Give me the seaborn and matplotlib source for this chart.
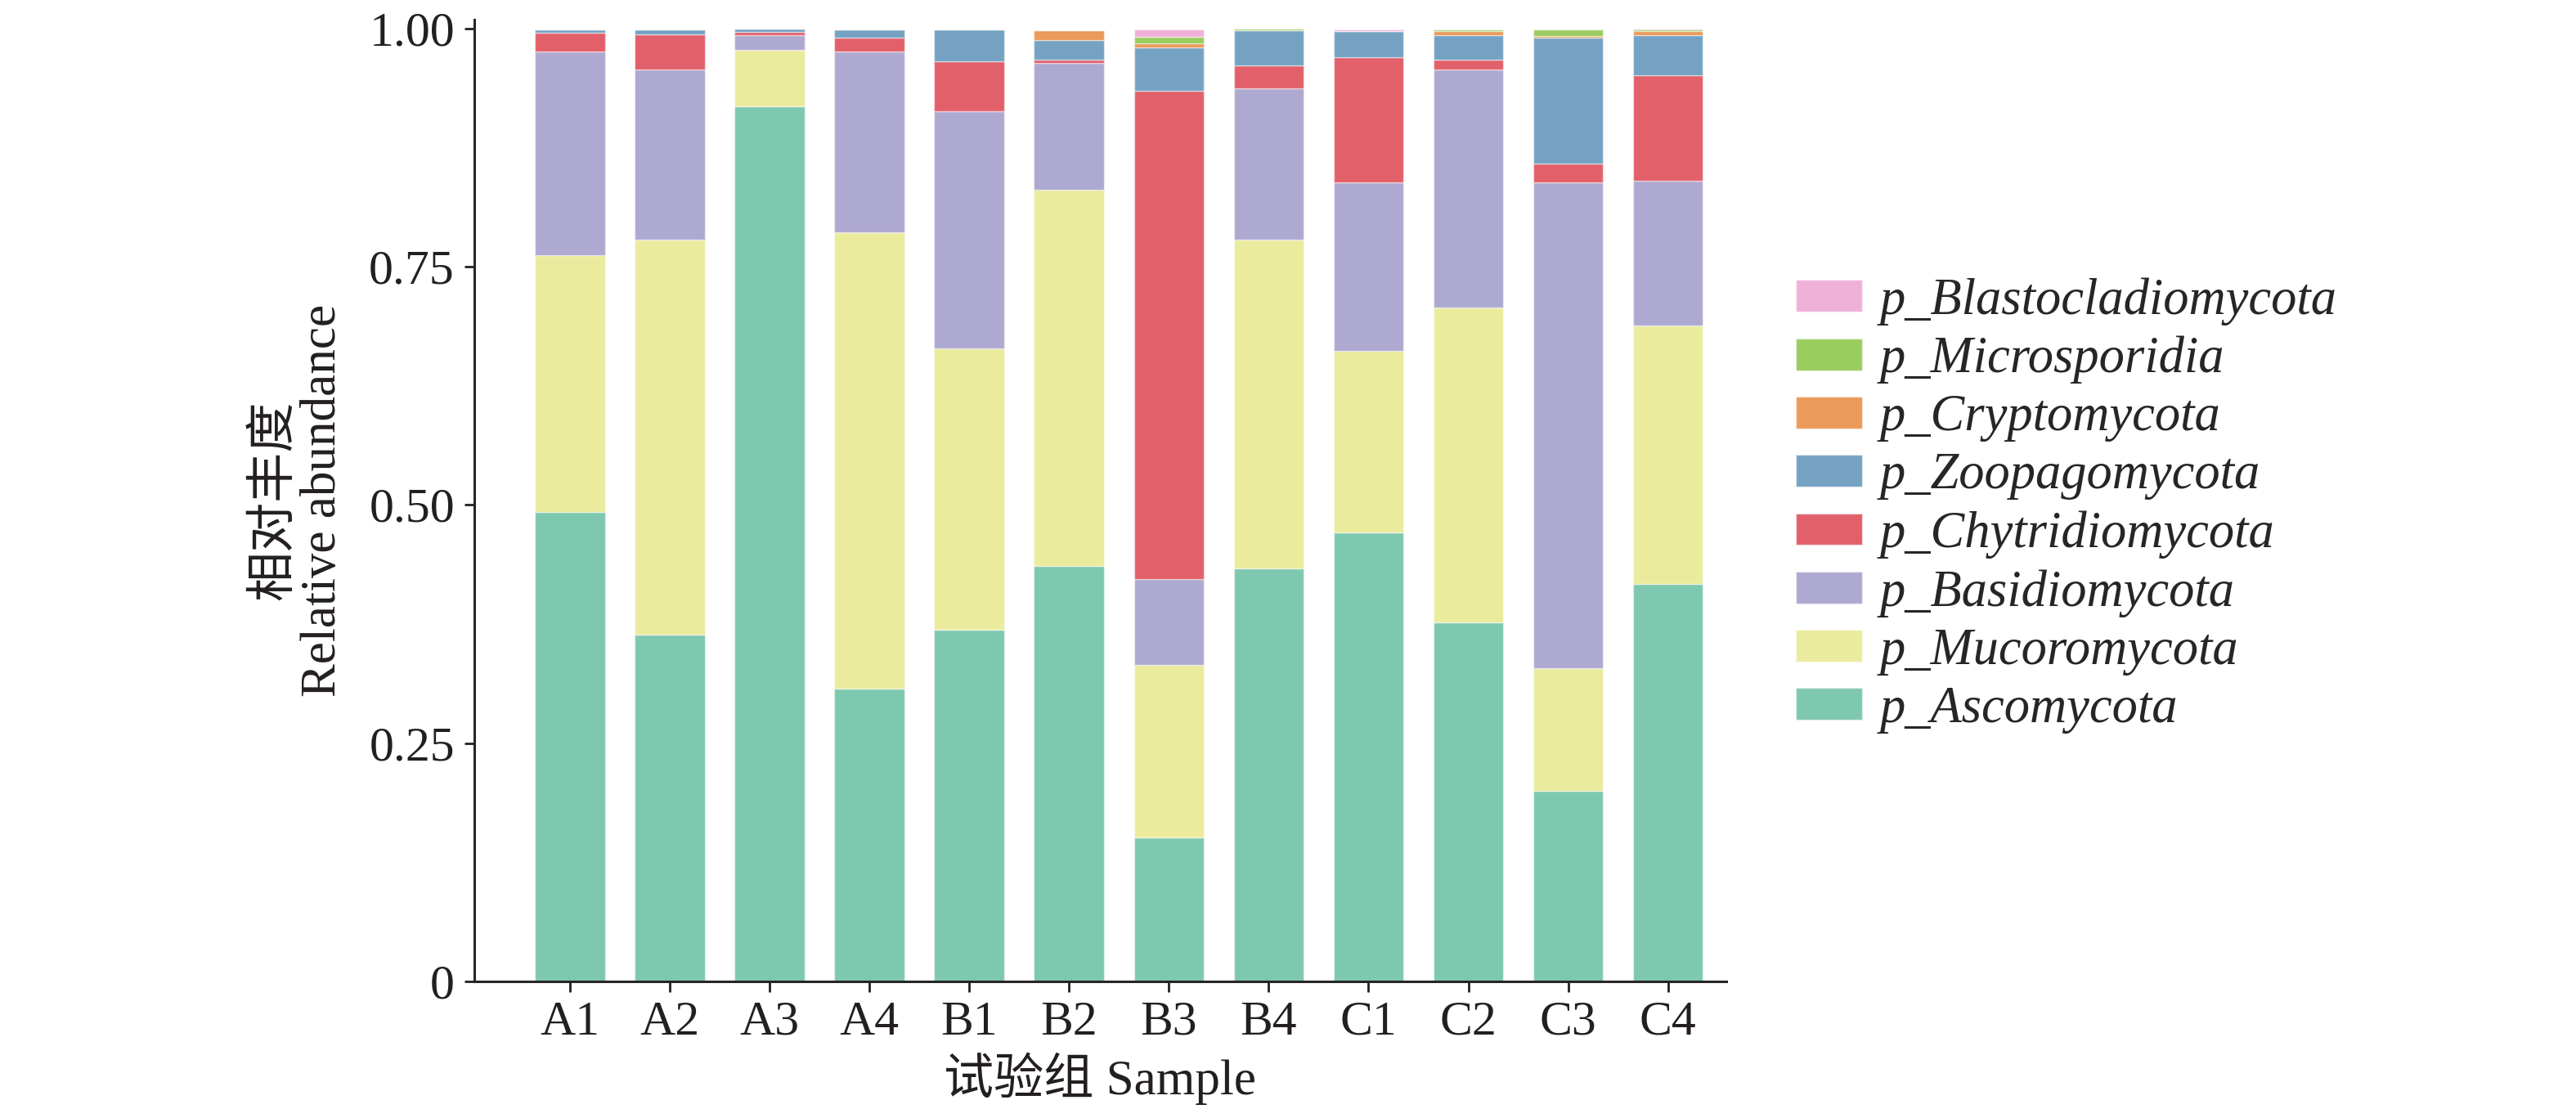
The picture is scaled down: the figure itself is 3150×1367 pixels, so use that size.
import matplotlib
matplotlib.use("Agg")
import matplotlib.pyplot as plt
import numpy as np
import pandas as pd
import seaborn as sns

# samples on the x axis
samples = ["A1", "A2", "A3", "A4", "B1", "B2", "B3", "B4", "C1", "C2", "C3", "C4"]

# relative abundance per phylum, bottom -> top
ascomycota = [0.493, 0.364, 0.918, 0.307, 0.369, 0.436, 0.151, 0.433, 0.471, 0.377, 0.200, 0.417]
mucoromycota = [0.269, 0.414, 0.059, 0.479, 0.295, 0.395, 0.181, 0.345, 0.191, 0.330, 0.129, 0.271]
basidiomycota = [0.214, 0.179, 0.016, 0.190, 0.249, 0.133, 0.090, 0.159, 0.176, 0.250, 0.509, 0.152]
chytridiomycota = [0.019, 0.037, 0.003, 0.014, 0.052, 0.003, 0.512, 0.024, 0.132, 0.010, 0.020, 0.111]
zoopagomycota = [0.004, 0.005, 0.004, 0.009, 0.034, 0.021, 0.046, 0.037, 0.027, 0.026, 0.132, 0.042]
cryptomycota = [0.000, 0.000, 0.000, 0.000, 0.000, 0.010, 0.004, 0.000, 0.000, 0.004, 0.002, 0.004]
microsporidia = [0.000, 0.000, 0.000, 0.000, 0.000, 0.000, 0.007, 0.002, 0.000, 0.002, 0.007, 0.002]
blastocladiomycota = [0.000, 0.000, 0.000, 0.000, 0.000, 0.000, 0.008, 0.000, 0.002, 0.000, 0.000, 0.001]

phyla = ["p_Ascomycota", "p_Mucoromycota", "p_Basidiomycota", "p_Chytridiomycota",
         "p_Zoopagomycota", "p_Cryptomycota", "p_Microsporidia", "p_Blastocladiomycota"]
colors = ["#7fc8b0", "#ebeb9d", "#aea9d0", "#e2606a",
          "#75a2c3", "#ea9a5a", "#9acd5f", "#f0b1d9"]

df = pd.DataFrame({
    "Sample": samples,
    "p_Ascomycota": ascomycota,
    "p_Mucoromycota": mucoromycota,
    "p_Basidiomycota": basidiomycota,
    "p_Chytridiomycota": chytridiomycota,
    "p_Zoopagomycota": zoopagomycota,
    "p_Cryptomycota": cryptomycota,
    "p_Microsporidia": microsporidia,
    "p_Blastocladiomycota": blastocladiomycota,
})

sns.set_style("ticks")
plt.rcParams["font.family"] = ["Liberation Serif", "Noto Sans CJK SC"]
plt.rcParams["axes.linewidth"] = 2.2

fig = plt.figure(figsize=(31.5, 13.67), dpi=100)
ax = fig.add_axes([0.184, 0.122, 0.486, 0.8604])

# stack the phyla one on top of the other
bottom = np.zeros(len(samples))
for name, col in zip(phyla, colors):
    sns.barplot(data=df, x="Sample", y=name, color=col, bottom=bottom,
                width=0.7, errorbar=None, label=name, ax=ax, saturation=1,
                edgecolor=(1, 1, 1, 0.45), linewidth=1.0)
    bottom = bottom + df[name].values

handles, labels = ax.get_legend_handles_labels()
if ax.get_legend() is not None:
    ax.get_legend().remove()

ax.set_xlim(-0.96, 11.58)
ax.set_ylim(0, 1.009)
ax.set_yticks([0, 0.25, 0.5, 0.75, 1.0])
ax.set_yticklabels(["0", "0.25", "0.50", "0.75", "1.00"])
ax.tick_params(axis="both", labelsize=43, length=9, width=2.0, pad=8, colors="#231f20")
sns.despine(ax=ax)

ax.set_xlabel("试验组 Sample", fontsize=44, labelpad=6, color="#231f20")
ax.set_ylabel("相对丰度\nRelative abundance", fontsize=44, labelpad=20,
              linespacing=1.1, color="#231f20")

fig.legend(handles[::-1], labels[::-1], loc="upper left",
           bbox_to_anchor=(0.697, 0.752), frameon=False,
           prop={"style": "italic", "size": 45}, handlelength=1.3,
           handleheight=0.58, handletextpad=0.35, labelspacing=0.21,
           borderpad=0, borderaxespad=0)

fig.savefig("out.png", dpi=100)
